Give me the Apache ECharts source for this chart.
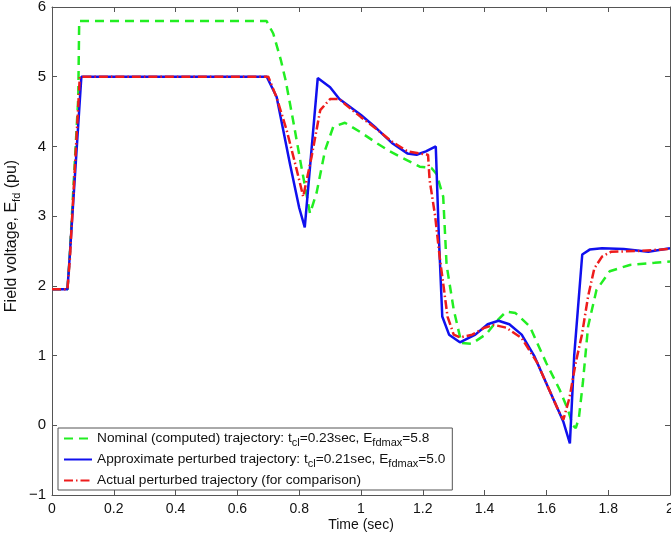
<!DOCTYPE html>
<html>
<head>
<meta charset="utf-8">
<script src="https://cdn.jsdelivr.net/npm/echarts@6/dist/echarts.min.js"></script>
<style>html,body{margin:0;padding:0;background:#fff}#c{width:671px;height:534px}</style>
</head>
<body>
<div id="c"></div>
<script>
// Nominal (computed) trajectory
var nomT = [0, 0.05, 0.057, 0.085, 0.088, 0.3, 0.5, 0.694, 0.716, 0.74, 0.756, 0.78, 0.807, 0.835, 0.856, 0.884, 0.91, 0.948, 1.0, 1.05, 1.093, 1.15, 1.19, 1.228, 1.245, 1.266, 1.277, 1.3, 1.325, 1.358, 1.406, 1.44, 1.47, 1.5, 1.546, 1.6, 1.643, 1.67, 1.685, 1.695, 1.705, 1.718, 1.735, 1.762, 1.805, 1.87, 1.95, 2.0];
var nomV = [1.95, 1.95, 2.4, 4.7, 5.8, 5.8, 5.8, 5.8, 5.62, 5.25, 4.95, 4.38, 3.71, 3.04, 3.33, 3.95, 4.28, 4.34, 4.2, 4.05, 3.93, 3.8, 3.71, 3.69, 3.6, 3.28, 2.3, 1.66, 1.18, 1.17, 1.31, 1.5, 1.63, 1.61, 1.42, 0.89, 0.51, 0.22, 0.0, -0.04, 0.1, 0.61, 1.42, 1.94, 2.21, 2.3, 2.33, 2.35];
// Approximate perturbed trajectory
var apxT = [0, 0.05, 0.057, 0.095, 0.4, 0.695, 0.727, 0.77, 0.8, 0.818, 0.86, 0.9, 0.93, 1.0, 1.05, 1.1, 1.15, 1.18, 1.21, 1.242, 1.252, 1.263, 1.285, 1.32, 1.37, 1.41, 1.445, 1.48, 1.52, 1.56, 1.6, 1.64, 1.655, 1.676, 1.69, 1.716, 1.74, 1.78, 1.85, 1.93, 2.0];
var apxV = [1.95, 1.95, 2.4, 5.0, 5.0, 5.0, 4.71, 3.75, 3.12, 2.84, 4.98, 4.85, 4.68, 4.45, 4.26, 4.05, 3.9, 3.88, 3.93, 4.0, 2.7, 1.56, 1.3, 1.19, 1.3, 1.45, 1.5, 1.45, 1.3, 1.0, 0.6, 0.2, 0.05, -0.26, 1.0, 2.45, 2.52, 2.54, 2.53, 2.49, 2.54];
// Actual perturbed trajectory
var actT = [0, 0.05, 0.058, 0.09, 0.4, 0.7, 0.727, 0.759, 0.79, 0.813, 0.84, 0.868, 0.9, 0.93, 0.95, 1.0, 1.05, 1.1, 1.15, 1.2, 1.217, 1.222, 1.24, 1.255, 1.27, 1.28, 1.3, 1.32, 1.36, 1.4, 1.43, 1.47, 1.52, 1.57, 1.61, 1.64, 1.655, 1.675, 1.695, 1.715, 1.735, 1.755, 1.78, 1.81, 1.9, 2.0];
var actV = [1.95, 1.95, 2.4, 5.0, 5.0, 5.0, 4.7, 4.24, 3.7, 3.28, 3.85, 4.52, 4.68, 4.68, 4.6, 4.42, 4.25, 4.07, 3.93, 3.89, 3.88, 3.52, 3.0, 2.4, 1.9, 1.56, 1.3, 1.26, 1.3, 1.4, 1.44, 1.4, 1.25, 0.9, 0.5, 0.2, 0.08, 0.4, 0.9, 1.3, 1.85, 2.25, 2.42, 2.49, 2.5, 2.53];

var seriesNames = ['nom', 'apx', 'act'];
var legendRich = {
  nom: '{n|Nominal (computed) trajectory: t}{s|cl}{n|=0.23sec, E}{s|fdmax}{n|=5.8}',
  apx: '{n|Approximate perturbed trajectory: t}{s|cl}{n|=0.21sec, E}{s|fdmax}{n|=5.0}',
  act: '{n|Actual perturbed trajectory (for comparison)}'
};
var xTicks = [0, 0.2, 0.4, 0.6, 0.8, 1, 1.2, 1.4, 1.6, 1.8, 2];
var yTicks = [-1, 0, 1, 2, 3, 4, 5, 6];

function pairs(t, v) { return t.map(function (x, i) { return [x, v[i]]; }); }

var FONT = 'Liberation Sans, Arial, sans-serif';
var axisColor = '#555';
var chart = echarts.init(document.getElementById('c'), null, { renderer: 'canvas' });
var frameAxis = {
  axisLine: { show: true, onZero: false, lineStyle: { color: axisColor, width: 1 } },
  axisTick: { show: true, inside: true, length: 5, lineStyle: { color: axisColor } },
  splitLine: { show: false }
};
chart.setOption({
  animation: false,
  backgroundColor: '#fff',
  grid: { left: 52, right: 1, top: 7, bottom: 39, containLabel: false, outerBoundsMode: 'none' },
  xAxis: [
    Object.assign({
      type: 'value', min: 0, max: 2, interval: 0.2, position: 'bottom',
      axisLabel: { color: '#111', fontSize: 14, fontFamily: FONT, margin: 7,
        formatter: function (v) { return String(Math.round(v * 10) / 10); } },
      name: 'Time (sec)', nameLocation: 'middle', nameGap: 23, nameMoveOverlap: false,
      nameTextStyle: { color: '#111', fontSize: 14, fontFamily: FONT }
    }, frameAxis),
    Object.assign({
      type: 'value', min: 0, max: 2, interval: 0.2, position: 'top', axisLabel: { show: false }
    }, frameAxis)
  ],
  yAxis: [
    Object.assign({
      type: 'value', min: -1, max: 6, interval: 1, position: 'left',
      axisLabel: { color: '#111', fontSize: 15, fontFamily: FONT, margin: 6,
        formatter: function (v) { return String(v).replace('-', '\u2212'); } },
      name: '{n|Field voltage, E}{s|fd}{n| (pu)}', nameLocation: 'middle', nameGap: 30, nameMoveOverlap: false,
      nameTextStyle: { color: '#111', fontFamily: FONT, padding: [0, 0, 0, 30],
        rich: { n: { fontSize: 16, fontFamily: FONT, color: '#111', lineHeight: 20 },
                s: { fontSize: 11, fontFamily: FONT, color: '#111', lineHeight: 8, verticalAlign: 'bottom' } } }
    }, frameAxis),
    Object.assign({
      type: 'value', min: -1, max: 6, interval: 1, position: 'right', axisLabel: { show: false }
    }, frameAxis)
  ],
  legend: {
    show: true, orient: 'vertical', left: 58, top: 428,
    padding: [1, 7, 0, 5], itemGap: 2, itemWidth: 28, itemHeight: 19,
    backgroundColor: '#fff', borderColor: '#555', borderWidth: 1,
    itemStyle: { color: 'transparent', borderColor: 'transparent', borderWidth: 0, opacity: 0 },
    data: seriesNames,
    formatter: function (name) { return legendRich[name]; },
    textStyle: { fontFamily: FONT, color: '#111', lineHeight: 19,
      rich: { n: { fontSize: 13.7, fontFamily: FONT, color: '#111', lineHeight: 19 },
              s: { fontSize: 11, fontFamily: FONT, color: '#111', lineHeight: 8, verticalAlign: 'bottom' } } }
  },
  series: [
    { name: 'nom', type: 'line', showSymbol: false, symbol: 'none', data: pairs(nomT, nomV),
      lineStyle: { color: '#22ee22', width: 2.5, type: [9, 6] }, itemStyle: { color: '#22ee22' }, z: 2 },
    { name: 'apx', type: 'line', showSymbol: false, symbol: 'none', data: pairs(apxT, apxV),
      lineStyle: { color: '#1010ee', width: 2.5, type: 'solid' }, itemStyle: { color: '#1010ee' }, z: 3 },
    { name: 'act', type: 'line', showSymbol: false, symbol: 'none', data: pairs(actT, actV),
      lineStyle: { color: '#ee1c1c', width: 2.5, type: [9, 3, 1.5, 3] }, itemStyle: { color: '#ee1c1c' }, z: 4 }
  ]
});
</script>
</body>
</html>
